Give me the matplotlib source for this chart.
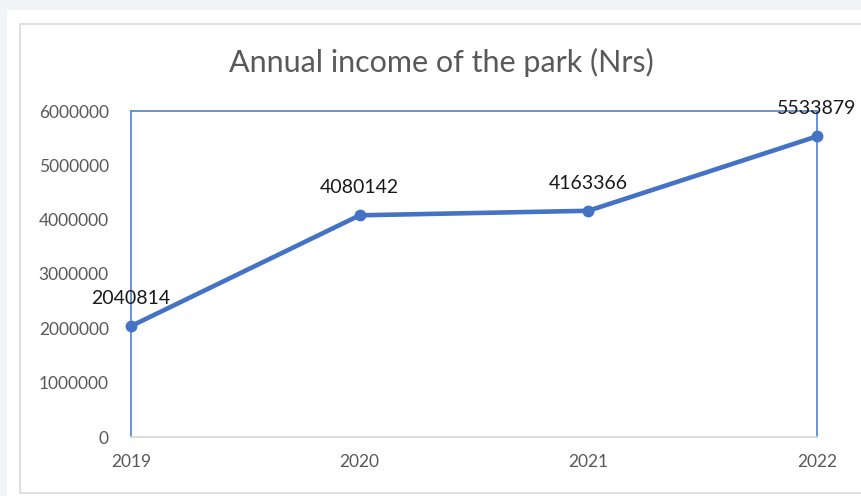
import matplotlib
matplotlib.use("Agg")
import matplotlib.pyplot as plt
from matplotlib.patches import Rectangle

years = ["2019", "2020", "2021", "2022"]
income = [2040814, 4080142, 4163366, 5533879]
yticks = [0, 1000000, 2000000, 3000000, 4000000, 5000000, 6000000]

W, H = 861, 496
fig = plt.figure(figsize=(W / 100, H / 100), dpi=100)
fig.patch.set_facecolor("#f2f3f5")

# white chart panel and its thin grey frame
fig.patches.append(Rectangle((7 / W, 0), 1, 1 - 10 / H, transform=fig.transFigure,
                             facecolor="white", edgecolor="none", zorder=-3))
fig.patches.append(Rectangle((20 / W, 3 / H), 1, 1 - 27 / H, transform=fig.transFigure,
                             facecolor="none", edgecolor="#d9d9d9", linewidth=1.2, zorder=-2))

left, right, top, bottom = 131, 817, 111, 437
ax = fig.add_axes([left / W, 1 - bottom / H, (right - left) / W, (bottom - top) / H])
ax.set_facecolor("none")

x = list(range(len(years)))
blue = "#4472c4"
ax.plot(x, income, color=blue, linewidth=3.3, marker="o", markersize=7.5,
        solid_capstyle="round", zorder=3, clip_on=False)

for xi, v in zip(x, income):
    ax.annotate(f"{v}", (xi, v), xytext=(0, 16), textcoords="offset points",
                ha="center", va="baseline", fontsize=14, color="#1a1a1a",
                family="Lato", zorder=4)

ax.set_xlim(0, len(years) - 1)
ax.set_ylim(0, 6000000)
ax.set_xticks(x)
ax.set_xticklabels(years)
ax.set_yticks(yticks)
ax.set_yticklabels([str(t) for t in yticks])
ax.tick_params(axis="both", length=0, labelsize=12.5, labelcolor="#595959")
ax.tick_params(axis="x", pad=12)
ax.tick_params(axis="y", pad=16)
for lab in ax.get_xticklabels() + ax.get_yticklabels():
    lab.set_family("Lato")

for s in ("left", "top", "right"):
    ax.spines[s].set_color("#5b8bd6")
    ax.spines[s].set_linewidth(1.3)
ax.spines["bottom"].set_color("#d9d9d9")
ax.spines["bottom"].set_linewidth(1.3)

fig.text(441 / W, 1 - 62 / H, "Annual income of the park (Nrs)", ha="center",
         va="center", fontsize=22, color="#595959", family="Lato")

fig.savefig("out.png", dpi=100, facecolor=fig.get_facecolor())
